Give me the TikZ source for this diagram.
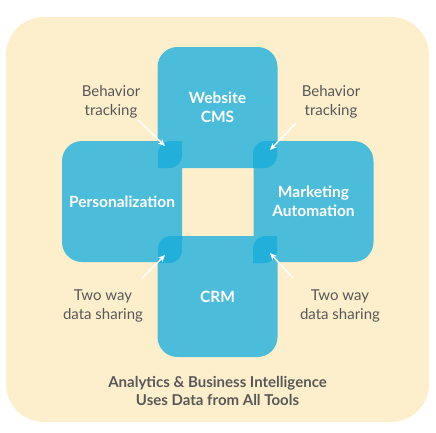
\documentclass[tikz,border=0pt]{standalone}
\usepackage{fontspec}
\setmainfont{Lato}
\usepackage{tikz}
\usetikzlibrary{arrows.meta,positioning}
\definecolor{PanelBg}{HTML}{FEEFCC}
\definecolor{ToolBlue}{HTML}{4BBDDA}
\definecolor{LeafBlue}{HTML}{22B0DB}
\definecolor{NoteGray}{HTML}{58585A}
\tikzset{
  toolbox/.style={fill=ToolBlue,rounded corners=20pt,minimum width=120pt,minimum height=121pt,
    align=center,text=white,font=\bfseries\fontsize{15.5}{19}\selectfont,inner sep=0pt},
  note/.style={align=center,text=NoteGray,font=\fontsize{15}{18.5}\selectfont},
  flowarrow/.style={white,line width=1.4pt,-{Stealth[length=7pt,width=6pt]}}
}
\newcommand\leafat[2]{%
  \fill[LeafBlue] (#1,#2) ++(0,27) -- ++(0,-14) .. controls +(0,-7.7) and +(-7.7,0) .. ++(13,-13)
    -- ++(11,0) -- ++(0,14) .. controls +(0,7.7) and +(7.7,0) .. ++(-13,13) -- cycle;}
\begin{document}
\begin{tikzpicture}[x=1pt,y=-1pt]
  \useasboundingbox (0,0) rectangle (436,432);
  \fill[PanelBg,rounded corners=38pt] (6,17) rectangle (429,422);
  % the four tools
  \node[toolbox] (web) at (217.5,107.5) {Website\\CMS};
  \node[toolbox] (pers) at (122,201.5) {Personalization};
  \node[toolbox] (mkt) at (313.5,201.5) {Marketing\\Automation};
  \node[toolbox] (crm) at (217.5,296.5) {CRM};
  % overlaps
  \leafat{158}{141}
  \leafat{253}{141}
  \leafat{158}{236}
  \leafat{253}{236}
  \coordinate (tl) at (165,146);
  \coordinate (tr) at (270,150);
  \coordinate (bl) at (165,255);
  \coordinate (br) at (270,253);
  % side notes
  \node[note] (btl) at (111,102) {Behavior\\tracking};
  \node[note] (btr) at (331,102) {Behavior\\tracking};
  \node[note] (dbl) at (103,306) {Two way\\data sharing};
  \node[note] (dbr) at (340,306) {Two way\\data sharing};
  \coordinate (btlend) at (138,120);
  \coordinate (btrend) at (296,123);
  \coordinate (dblend) at (142,278);
  \coordinate (dbrend) at (293,278);
  \draw[flowarrow] (btlend) -- (tl);
  \draw[flowarrow] (btrend) -- (tr);
  \draw[flowarrow] (dblend) -- (bl);
  \draw[flowarrow] (dbrend) -- (br);
  \node[note,font=\bfseries\fontsize{15}{17.5}\selectfont] (bi) at (217.5,391) {Analytics \& Business Intelligence\\Uses Data from All Tools};
\end{tikzpicture}
\end{document}
